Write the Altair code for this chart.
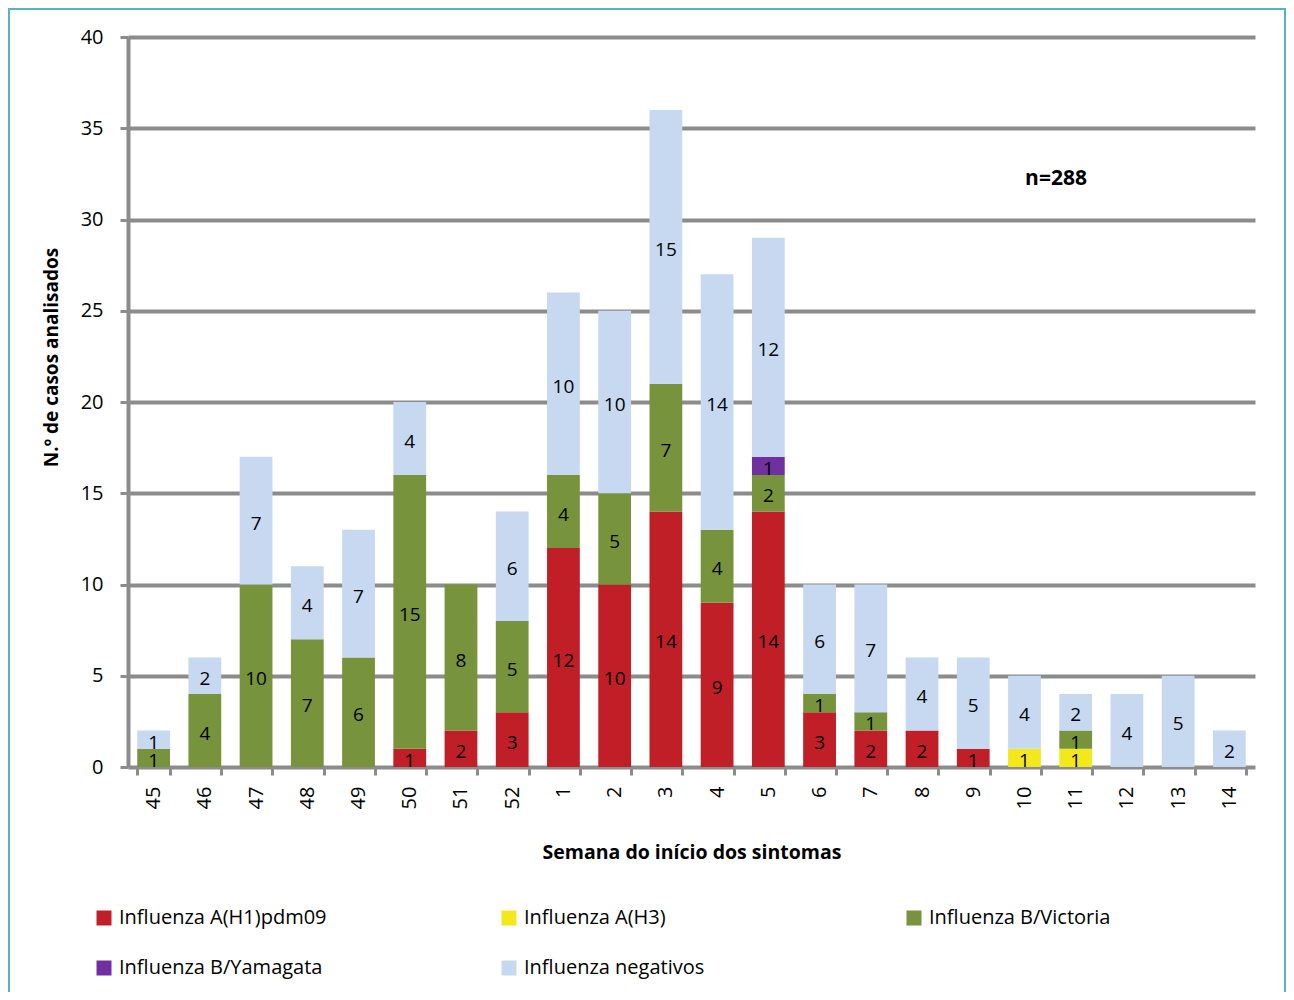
import altair as alt
import pandas as pd

weeks = ["45", "46", "47", "48", "49", "50", "51", "52", "1", "2", "3", "4", "5",
         "6", "7", "8", "9", "10", "11", "12", "13", "14"]
h1 = [0, 0, 0, 0, 0, 1, 2, 3, 12, 10, 14, 9, 14, 3, 2, 2, 1, 0, 0, 0, 0, 0]
h3 = [0, 0, 0, 0, 0, 0, 0, 0, 0, 0, 0, 0, 0, 0, 0, 0, 0, 1, 1, 0, 0, 0]
vic = [1, 4, 10, 7, 6, 15, 8, 5, 4, 5, 7, 4, 2, 1, 1, 0, 0, 0, 1, 0, 0, 0]
yam = [0, 0, 0, 0, 0, 0, 0, 0, 0, 0, 0, 0, 1, 0, 0, 0, 0, 0, 0, 0, 0, 0]
neg = [1, 2, 7, 4, 7, 4, 0, 6, 10, 10, 15, 14, 12, 6, 7, 4, 5, 4, 2, 4, 5, 2]

series = ["Influenza A(H1)pdm09", "Influenza A(H3)", "Influenza B/Victoria",
          "Influenza B/Yamagata", "Influenza negativos"]
colors = ["#c01f27", "#f2e81b", "#77933c", "#7030a0", "#c6d9f1"]
values = [h1, h3, vic, yam, neg]

# legend fills column by column: order the domain so rows read as in the original
legend_order = [0, 3, 1, 4, 2]
dom = [series[i] for i in legend_order]
rng = [colors[i] for i in legend_order]

rows = []
for si, (name, vals) in enumerate(zip(series, values)):
    for w, v in zip(weeks, vals):
        rows.append({"week": w, "series": name, "order": si, "count": v})
df = pd.DataFrame(rows)

FONT = "Open Sans"
W, H = 1127, 730

base = alt.Chart(df).transform_stack(
    stack="count", groupby=["week"], as_=["y0", "y1"],
    sort=[alt.SortField("order", order="ascending")]
).transform_calculate(mid="(datum.y0 + datum.y1) / 2")

xenc = alt.X("week:N", sort=weeks, title="Semana do início dos sintomas",
             scale=alt.Scale(paddingInner=0.36, paddingOuter=0.18),
             axis=alt.Axis(labelAngle=270, labelAlign="right", labelBaseline="middle",
                           labelPadding=11, tickBand="extent", tickSize=8, tickWidth=3,
                           tickColor="#8c8c8c", domain=False, labelFontSize=20,
                           titlePadding=35, titleFontSize=19.5, titleFontWeight="bold",
                           labelColor="#000", titleColor="#000", grid=False))

bars = base.mark_bar().encode(
    x=xenc,
    y=alt.Y("y0:Q", title="N.º de casos analisados",
            scale=alt.Scale(domain=[0, 40], nice=False),
            axis=alt.Axis(values=[0, 5, 10, 15, 20, 25, 30, 35, 40], tickSize=8, tickWidth=3,
                          tickColor="#8c8c8c", domainColor="#8c8c8c", domainWidth=4,
                          gridColor="#8c8c8c", gridWidth=4, labelFontSize=20,
                          labelPadding=17, titleFontSize=19, titleFontWeight="bold",
                          titlePadding=19, titleY=320, labelColor="#000", titleColor="#000")),
    y2="y1:Q",
    color=alt.Color("series:N",
                    scale=alt.Scale(domain=dom, range=rng),
                    legend=alt.Legend(title=None, orient="none", legendX=-34, legendY=871,
                                      columns=3, gridAlign="all", columnPadding=172,
                                      rowPadding=30, symbolType="square", symbolSize=225,
                                      symbolStrokeWidth=0, labelFontSize=20,
                                      labelOffset=5, labelColor="#000", labelLimit=400)),
)

labels = base.transform_filter("datum.count > 0").mark_text(
    fontSize=19, font=FONT, color="#000", baseline="middle", dy=3
).encode(
    x=alt.X("week:N", sort=weeks),
    y=alt.Y("mid:Q"),
    text=alt.Text("count:Q"),
)

note = alt.Chart(pd.DataFrame({"t": ["n=288"]})).mark_text(
    fontSize=21, font=FONT, fontWeight="bold", color="#000"
).encode(x=alt.value(928), y=alt.value(142), text="t:N")

frame = alt.Chart(pd.DataFrame({"a": [0]})).mark_rect(
    fill=None, stroke="#56b3c0", strokeWidth=2
).encode(x=alt.value(-119), x2=alt.value(1157), y=alt.value(-28), y2=alt.value(1000))

chart = alt.layer(frame, bars, labels, note).properties(
    width=W, height=H,
    autosize=alt.AutoSizeParams(type="none"),
    padding={"left": 120, "top": 29, "right": 31, "bottom": 225},
).configure(font=FONT).configure_view(stroke=None).configure_axis(
    labelFont=FONT, titleFont=FONT
).configure_legend(labelFont=FONT)

chart.save("out.html", embed_options={"renderer": "svg", "actions": False})
